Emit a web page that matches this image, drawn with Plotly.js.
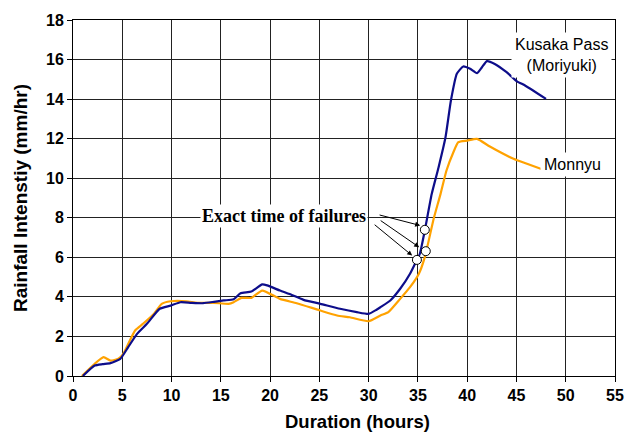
<!DOCTYPE html>
<html>
<head>
<meta charset="utf-8">
<script src="https://cdn.plot.ly/plotly-3.0.1.min.js"></script>
<style>html,body{margin:0;padding:0;background:#fff;}#chart{width:636px;height:433px;}</style>
</head>
<body>
<div id="chart"></div>
<script>
// Kusaka Pass (Moriyuki)
const kusakaX = [1.0, 2.2, 3.0, 3.8, 4.8, 5.6, 6.5, 7.5, 8.8, 9.9, 10.9, 12.0, 13.2, 14.3, 15.3, 16.3, 17.0, 18.1, 19.2, 19.7, 21.0, 22.2, 23.4, 25.1, 27.1, 28.8, 30.0, 30.8, 31.2, 32.2, 33.2, 34.2, 34.9, 35.2, 35.7, 36.4, 37.1, 37.8, 38.35, 38.95, 39.6, 40.3, 41.0, 41.5, 42.0, 42.8, 44.0, 45.05, 45.7, 48.0];
const kusakaY = [0, 0.53, 0.6, 0.65, 0.87, 1.46, 2.13, 2.64, 3.4, 3.56, 3.73, 3.7, 3.68, 3.75, 3.82, 3.88, 4.19, 4.27, 4.63, 4.58, 4.32, 4.1, 3.85, 3.65, 3.4, 3.23, 3.14, 3.35, 3.48, 3.82, 4.41, 5.17, 5.87, 6.18, 7.36, 9.2, 10.56, 12.07, 13.93, 15.28, 15.65, 15.53, 15.31, 15.61, 15.92, 15.78, 15.36, 14.9, 14.74, 14.01];
// Monnyu
const monnyuX = [0.9, 2.2, 3.1, 3.8, 4.6, 5.1, 6.3, 7.1, 8.2, 9.0, 9.9, 11.5, 12.6, 14.3, 15.8, 16.3, 17.1, 18.1, 19.2, 21.0, 22.7, 25.1, 26.8, 28.1, 30.0, 31.2, 32.0, 33.2, 34.2, 35.1, 35.7, 36.6, 37.3, 37.9, 38.6, 39.1, 40.0, 41.0, 42.3, 44.7, 47.8];
const monnyuY = [0, 0.62, 0.95, 0.78, 0.87, 1.12, 2.3, 2.64, 3.14, 3.65, 3.78, 3.78, 3.7, 3.7, 3.65, 3.73, 3.95, 3.95, 4.32, 3.9, 3.68, 3.31, 3.06, 2.97, 2.77, 3.06, 3.23, 3.9, 4.49, 5.17, 6.01, 7.95, 9.21, 10.39, 11.31, 11.82, 11.9, 11.99, 11.6, 10.98, 10.42];
// Exact time of failures
const failX = [35.7, 35.8, 34.9];
const failY = [7.39, 6.31, 5.87];
// arrow tails (near text) and tips (at circles)
const arrowTailX = [30.96, 31.07, 30.46];
const arrowTailY = [8.16, 7.91, 7.71];
const arrowTipX = [35.23, 35.13, 34.42];
const arrowTipY = [7.61, 6.51, 6.09];

const xTicks = [0,5,10,15,20,25,30,35,40,45,50,55];
const yTicks = [0,2,4,6,8,10,12,14,16,18];

const sans = 'Liberation Sans, Arial, sans-serif';
const traces = [
  {x: monnyuX, y: monnyuY, mode: 'lines', name: 'Monnyu',
   line: {color: '#ffa200', width: 2.2, shape: 'spline', smoothing: 0.5}},
  {x: kusakaX, y: kusakaY, mode: 'lines', name: 'Kusaka Pass (Moriyuki)',
   line: {color: '#0d0d8a', width: 2.2, shape: 'spline', smoothing: 0.5}},
  {x: failX, y: failY, mode: 'markers', name: 'failures',
   marker: {size: 9, color: '#ffffff', line: {color: '#000', width: 1}}}
];

const annotations = [
  {x: 21.4, y: 8.11, xref: 'x', yref: 'y', text: 'Exact time of failures', showarrow: false,
   font: {family: 'Liberation Serif, Times New Roman, serif', size: 18, color: '#000', weight: 'bold'},
   bgcolor: '#fff', borderpad: 1},
  {x: 49.6, y: 16.25, xref: 'x', yref: 'y', text: 'Kusaka Pass<br>(Moriyuki)', showarrow: false,
   font: {family: sans, size: 16, color: '#000'}, bgcolor: '#fff', borderpad: 3},
  {x: 50.7, y: 10.7, xref: 'x', yref: 'y', text: 'Monnyu', showarrow: false,
   font: {family: sans, size: 16, color: '#000'}, bgcolor: '#fff', borderpad: 3},
  {x: 0.524, y: -0.128, xref: 'paper', yref: 'paper', xanchor: 'center', yanchor: 'middle',
   text: 'Duration (hours)', showarrow: false,
   font: {family: sans, size: 18.5, color: '#000', weight: 'bold'}}
];
for (let i = 0; i < arrowTipX.length; i++) {
  annotations.push({x: arrowTipX[i], y: arrowTipY[i], xref: 'x', yref: 'y',
    ax: arrowTailX[i], ay: arrowTailY[i], axref: 'x', ayref: 'y', text: '',
    showarrow: true, arrowhead: 2, arrowsize: 1, arrowwidth: 1, arrowcolor: '#000'});
}

const layout = {
  width: 636, height: 433,
  margin: {l: 73, r: 21, t: 20, b: 57, pad: 0},
  paper_bgcolor: '#fff', plot_bgcolor: '#fff',
  showlegend: false,
  xaxis: {range: [0, 55], tickvals: xTicks, ticktext: xTicks.map(String),
    ticks: 'outside', ticklen: 5, tickcolor: '#000', showline: true, linecolor: '#000', linewidth: 1,
    mirror: true, showgrid: true, gridcolor: '#222', gridwidth: 1, zeroline: false,
    tickfont: {family: sans, size: 16, color: '#000', weight: 'bold'}},
  yaxis: {range: [0, 18], tickvals: yTicks, ticktext: yTicks.map(String),
    ticks: 'outside', ticklen: 5, tickcolor: '#000', showline: true, linecolor: '#000', linewidth: 1,
    mirror: true, showgrid: true, gridcolor: '#222', gridwidth: 1, zeroline: false,
    tickfont: {family: sans, size: 16, color: '#000', weight: 'bold'},
    title: {text: 'Rainfall Intenstiy (mm/hr)', font: {family: sans, size: 19, color: '#000', weight: 'bold'}, standoff: 13}},
  annotations: annotations
};

Plotly.newPlot('chart', traces, layout, {staticPlot: true, displayModeBar: false});
</script>
</body>
</html>
